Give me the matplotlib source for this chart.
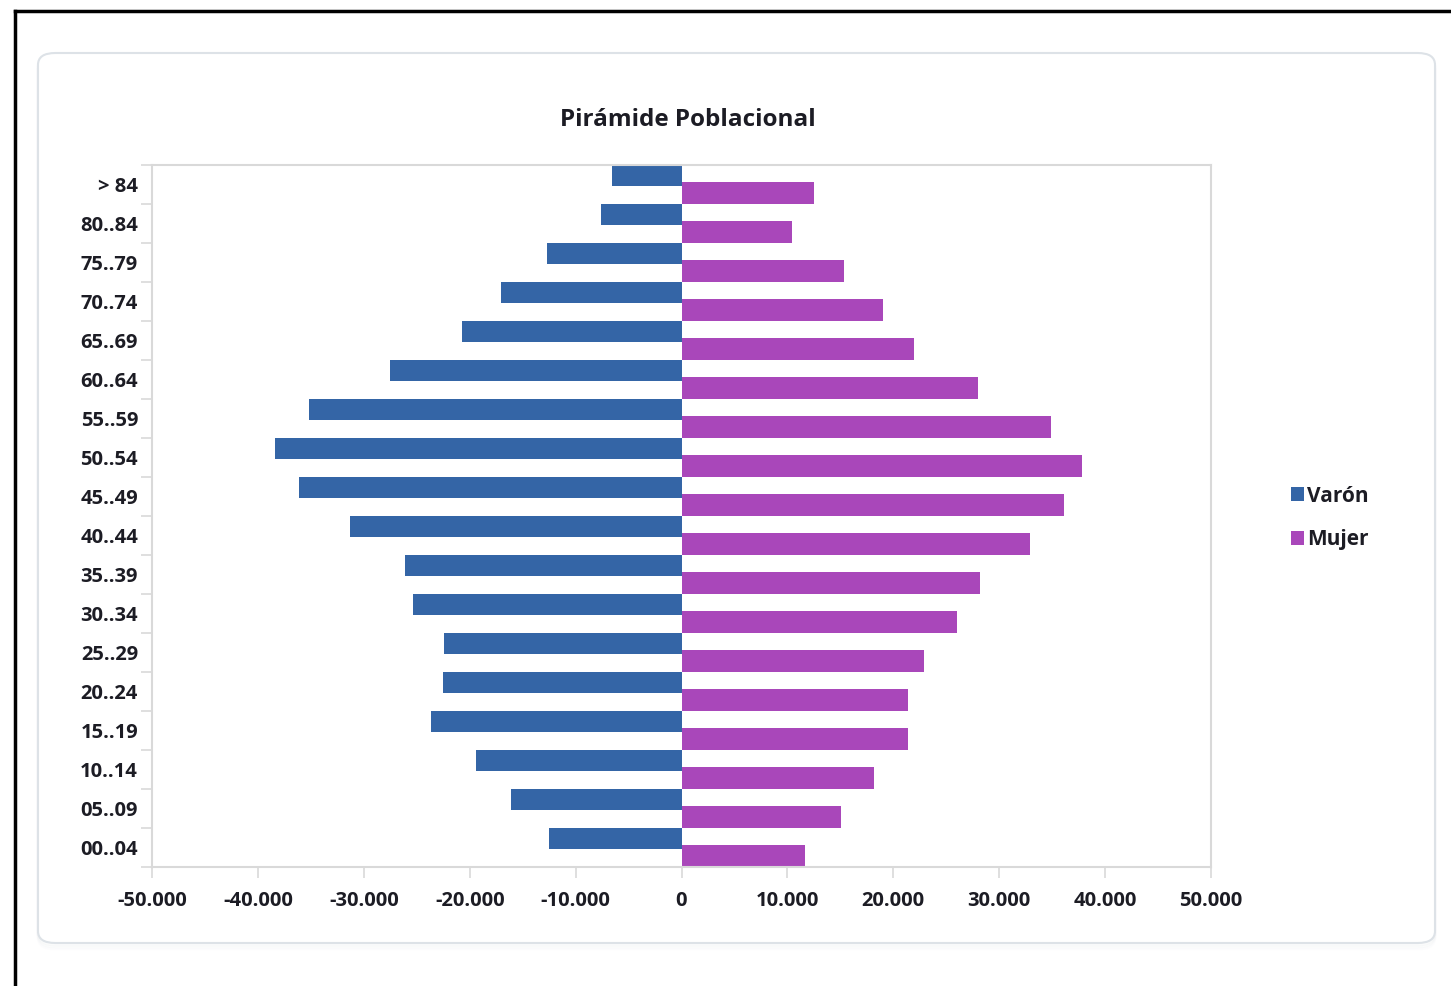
import matplotlib
matplotlib.use("Agg")
import matplotlib.pyplot as plt
import numpy as np
from matplotlib.patches import FancyBboxPatch
from matplotlib.lines import Line2D
from matplotlib.ticker import FuncFormatter, FixedLocator

plt.rcParams['font.family'] = ['Open Sans', 'DejaVu Sans']

# Age groups, youngest first (drawn from the bottom up)
age_groups = ["00..04", "05..09", "10..14", "15..19", "20..24", "25..29",
              "30..34", "35..39", "40..44", "45..49", "50..54", "55..59",
              "60..64", "65..69", "70..74", "75..79", "80..84", "> 84"]

varon = [12500, 16100, 19400, 23700, 22500, 22400, 25400, 26100, 31300,
         36100, 38400, 35200, 27500, 20700, 17000, 12700, 7600, 6600]
mujer = [11700, 15100, 18200, 21400, 21400, 22900, 26000, 28200, 32900,
         36100, 37800, 34900, 28000, 22000, 19000, 15300, 10400, 12500]

x_ticks = [-50000, -40000, -30000, -20000, -10000, 0,
           10000, 20000, 30000, 40000, 50000]

color_varon = "#3465A6"
color_mujer = "#A947BA"
text_color = "#1c1c24"
grid_gray = "#d9d9d9"

W, H = 1451, 986
fig = plt.figure(figsize=(W / 100, H / 100), dpi=100)
fig.patch.set_facecolor("white")

# Outer black frame (open on right/bottom edges of the page)
fig.add_artist(Line2D([15 / W, 15 / W], [0, 1 - 11 / H], color="black",
                      lw=2.5, transform=fig.transFigure, zorder=-5))
fig.add_artist(Line2D([15 / W, 1], [1 - 11 / H, 1 - 11 / H], color="black",
                      lw=2.5, transform=fig.transFigure, zorder=-5))

# Rounded chart panel with a soft shadow
for i, a in enumerate([0.05, 0.04, 0.03]):
    off = (i + 1) * 2
    fig.add_artist(FancyBboxPatch((38 / W, (H - 943 - off) / H),
                                  (1435 - 38) / W, (943 - 53) / H,
                                  boxstyle="round,pad=0,rounding_size=0.012",
                                  transform=fig.transFigure, facecolor="none",
                                  edgecolor="#b0b8c0", lw=2, alpha=a,
                                  zorder=-4))
fig.add_artist(FancyBboxPatch((38 / W, (H - 943) / H), (1435 - 38) / W,
                              (943 - 53) / H,
                              boxstyle="round,pad=0,rounding_size=0.012",
                              transform=fig.transFigure, facecolor="white",
                              edgecolor="#dde2e7", lw=1.5, zorder=-3))

ax = fig.add_axes([152 / W, (H - 867) / H, (1211 - 152) / W, (867 - 165) / H])
ax.set_zorder(2)
ax.set_facecolor("white")

y = np.arange(len(age_groups))
ax.barh(y + 0.24, -np.array(varon), height=0.54, color=color_varon,
        label="Varón", zorder=2)
ax.barh(y - 0.22, mujer, height=0.55, color=color_mujer,
        label="Mujer", zorder=2)

ax.set_xlim(-50000, 50000)
ax.set_ylim(-0.5, len(age_groups) - 0.5)

ax.xaxis.set_major_locator(FixedLocator(x_ticks))
ax.xaxis.set_major_formatter(FuncFormatter(
    lambda v, p: "0" if v == 0 else f"{v:,.0f}".replace(",", ".")))
ax.set_yticks(y)
ax.set_yticklabels(age_groups)
ax.set_yticks(np.arange(-0.5, len(age_groups), 1), minor=True)

for s in ax.spines.values():
    s.set_color(grid_gray)
    s.set_linewidth(1.5)

ax.tick_params(axis="y", which="major", length=0, pad=10,
               labelsize=14.5, labelcolor=text_color)
ax.tick_params(axis="y", which="minor", length=8, width=1.2, color=grid_gray)
ax.tick_params(axis="x", which="major", length=8, width=1.2, color=grid_gray,
               pad=9, labelsize=14.5, labelcolor=text_color)
for lab in ax.get_xticklabels() + ax.get_yticklabels():
    lab.set_fontweight("bold")

fig.text(688 / W, 1 - 120 / H, "Pirámide Poblacional", ha="center",
         va="center", fontsize=17.5, fontweight="bold", color=text_color)

leg = ax.legend(loc="center left", bbox_to_anchor=(1272 / W, 1 - 518 / H),
                bbox_transform=fig.transFigure, frameon=False,
                handlelength=0.65, handleheight=0.65, handletextpad=0.15,
                labelspacing=1.1, prop={"weight": "bold", "size": 15})
for t in leg.get_texts():
    t.set_color(text_color)

fig.savefig("out.png", dpi=100, facecolor="white")
